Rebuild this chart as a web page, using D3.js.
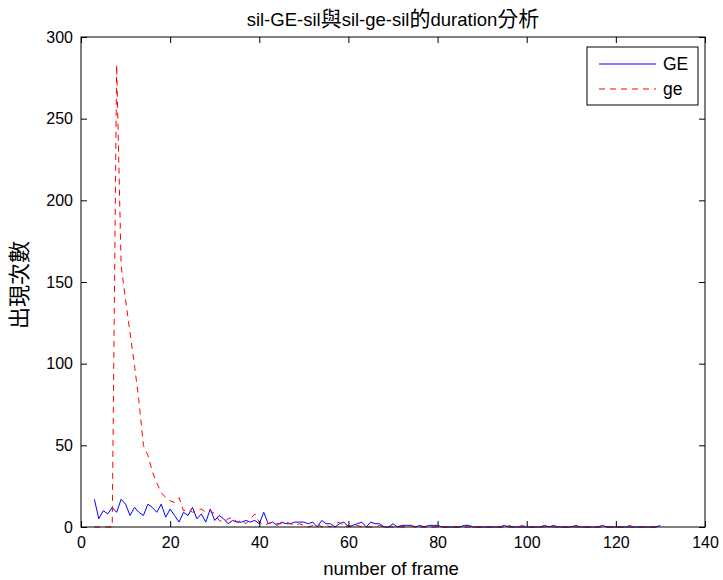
<!DOCTYPE html>
<html><head><meta charset="utf-8">
<script src="https://cdn.jsdelivr.net/npm/d3@7"></script>
<style>body{margin:0;background:#fff;} text{font-family:"Liberation Sans",Arial,"Noto Sans CJK TC",sans-serif;}</style>
</head><body>
<svg id="c" width="723" height="580"></svg>
<script>
const startFrame = 3;
const geUpper = [17,5,10,8,12,9,17,14,7,12,9,7,14,12,9,14,6,11,7,3,9,7,12,5,8,3,11,4,7,5,2,4,3,3,4,3,4,2,9,2,3,1,3,2,2,3,3,3,2,3,0,4,2,2,0,2,3,0,1,2,3,0,3,2,2,0,0,2,0,1,1,1,0,1,0,1,1,1,0,0,0,0,0,1,1,0,0,0,0,0,0,0,1,0,0,0,0,0,0,0,0,1,0,1,0,0,0,0,1,0,0,0,0,0,1,0,0,0,0,0,0,0,0,0,0,0,0,1];
const geLower = [0,0,0,0,0,283,160,139,119,99,77,50,44,34,27,21,18,16,15,18,10,11,9,10,11,9,10,8,4,3,5,6,3,4,2,5,8,3,1,2,3,2,2,3,2,1,2,1,0,1,2,0,1,0,2,3,0,1,0,1,0,0,0,0,1,0,0,0,0,0,0,1,0,0,0,0,0,0,0,0,0,0,0,0,0,0,0,0,0,0,0,0,0,1,0,0,1,0,0,0,0,0,0,0,0,0,0,0,0,0,0,0,0,0,0,0,0,0,0,0,1,0,0,0,0,0,0,0];
const xTicks = [0,20,40,60,80,100,120,140];
const yTicks = [0,50,100,150,200,250,300];
const seriesNames = ["GE","ge"];
const titleText = "sil-GE-sil與sil-ge-sil的duration分析";
const xLabel = "number of frame";
const yLabel = "出現次數";

const svg = d3.select("#c");
const L=81, R=705, T=37, B=527;
const x = d3.scaleLinear().domain([0,140]).range([L,R]);
const y = d3.scaleLinear().domain([0,300]).range([B,T]);
const font = 16;

const geData = geUpper.map((v,i)=>[startFrame+i, v]);
const geLData = geLower.map((v,i)=>[startFrame+i, v]);
const line = d3.line().x(d=>x(d[0])).y(d=>y(d[1]));

svg.append("path").datum(geData).attr("d",line).attr("fill","none").attr("stroke","#0000ff").attr("stroke-width",1);
svg.append("path").datum(geLData).attr("d",line).attr("fill","none").attr("stroke","#ff0000").attr("stroke-width",1).attr("stroke-dasharray","6,5");

svg.append("rect").attr("x",L).attr("y",T).attr("width",R-L).attr("height",B-T).attr("fill","none").attr("stroke","#000").attr("stroke-width",1);

const gx = svg.append("g").attr("transform",`translate(0,${B})`)
  .call(d3.axisBottom(x).tickValues(xTicks).tickSize(-6).tickPadding(10).tickFormat(d3.format("d")));
const gxt = svg.append("g").attr("transform",`translate(0,${T})`)
  .call(d3.axisTop(x).tickValues(xTicks).tickSize(-6).tickFormat(""));
const gy = svg.append("g").attr("transform",`translate(${L},0)`)
  .call(d3.axisLeft(y).tickValues(yTicks).tickSize(-6).tickPadding(8).tickFormat(d3.format("d")));
const gyr = svg.append("g").attr("transform",`translate(${R},0)`)
  .call(d3.axisRight(y).tickValues(yTicks).tickSize(-6).tickFormat(""));
[gx,gxt,gy,gyr].forEach(g=>{
  g.select(".domain").remove();
  g.selectAll("line").attr("stroke","#000");
  g.selectAll("text").attr("fill","#000").style("font-size",font+"px").style("font-family",'"Liberation Sans",Arial,sans-serif');
});

function mixed(sel, str, latinSize, cjkSize){
  const parts = str.match(/[\u3000-\u9fff]+|[^\u3000-\u9fff]+/g);
  parts.forEach(p=>{
    const cjk = /[\u3000-\u9fff]/.test(p);
    sel.append("tspan").text(p)
      .style("font-size", (cjk ? cjkSize : latinSize) + "px")
      .style("font-family", cjk ? '"Noto Sans CJK TC",sans-serif' : '"Liberation Sans",Arial,sans-serif');
  });
}
mixed(svg.append("text").attr("x",393).attr("y",26).attr("text-anchor","middle"), titleText, 18.5, 21);
svg.append("text").attr("x",391).attr("y",575).attr("text-anchor","middle").style("font-size","18.5px").text(xLabel);
mixed(svg.append("text").attr("transform","translate(27,285) rotate(-90)").attr("text-anchor","middle"), yLabel, 18.5, 22);

const lg = svg.append("g");
lg.append("rect").attr("x",587).attr("y",47).attr("width",111).attr("height",58).attr("fill","#fff").attr("stroke","#000");
const colors=["#0000ff","#ff0000"], dashes=[null,"6,5"];
seriesNames.forEach((n,i)=>{
  const yy = 64 + i*25;
  lg.append("line").attr("x1",599).attr("x2",656).attr("y1",yy).attr("y2",yy).attr("stroke",colors[i]).attr("stroke-dasharray",dashes[i]);
  lg.append("text").attr("x",663).attr("y",yy+6).style("font-size","17.5px").text(n);
});
</script>
</body></html>
